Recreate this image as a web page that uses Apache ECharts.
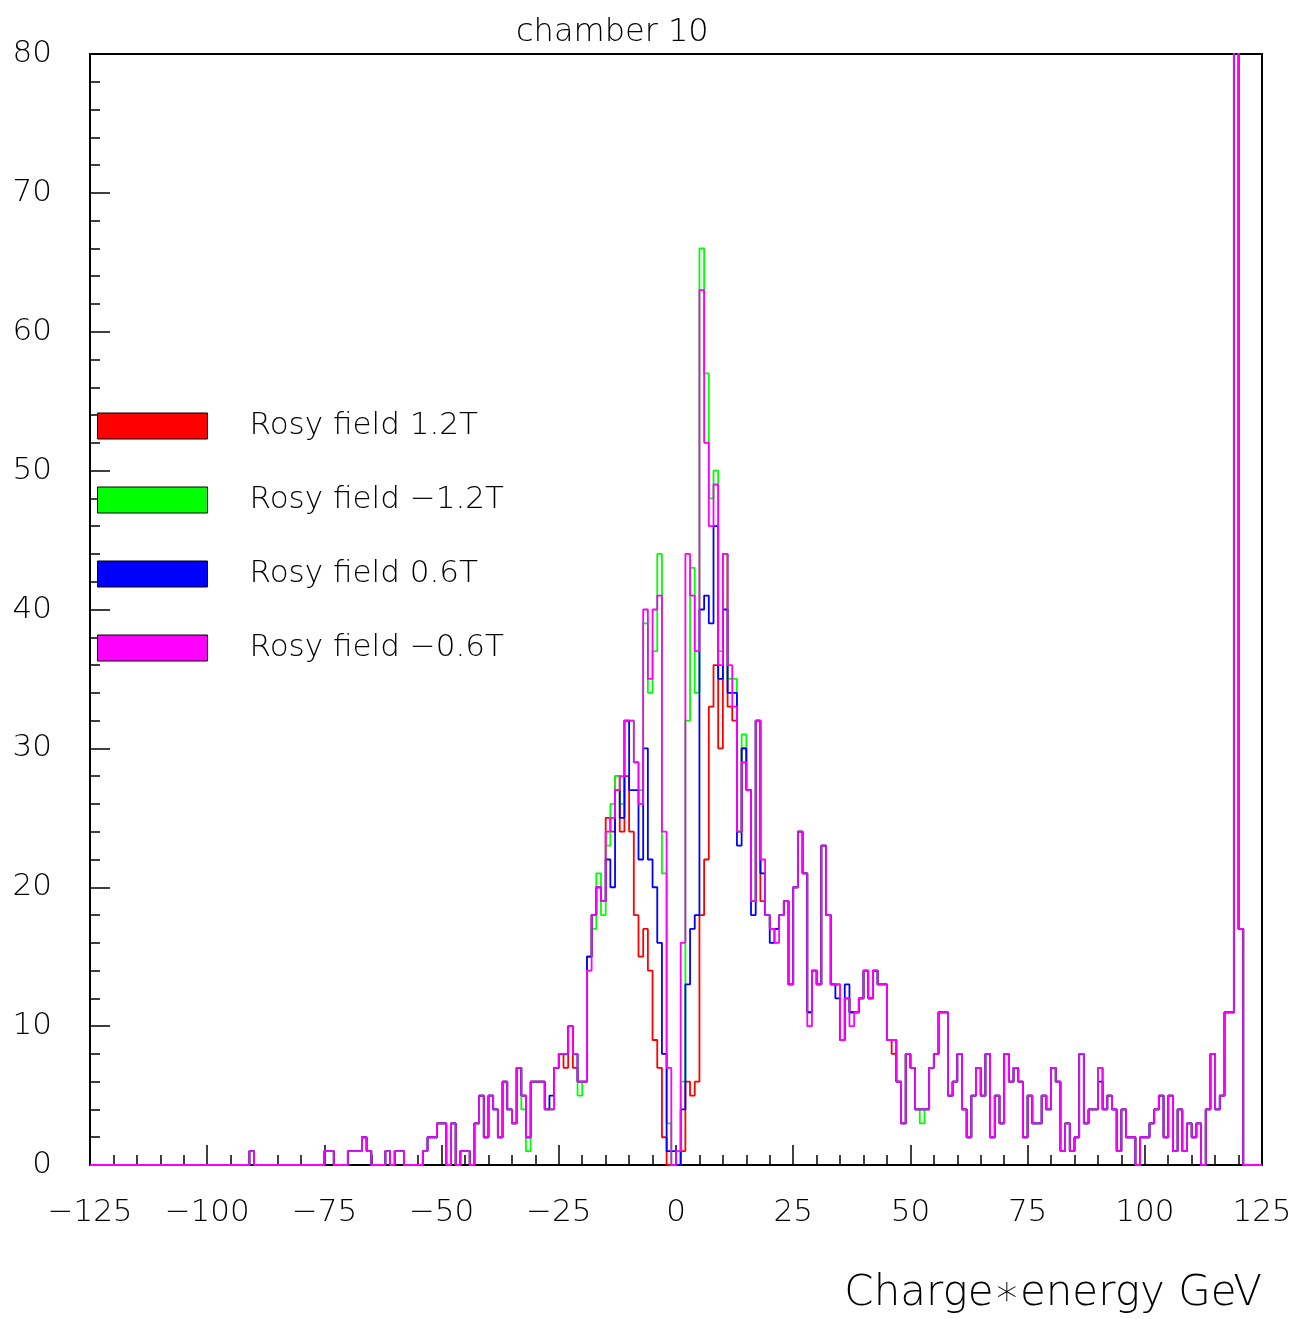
<!DOCTYPE html>
<html>
<head>
<meta charset="utf-8">
<script src="https://cdn.jsdelivr.net/npm/echarts@6/dist/echarts.min.js"></script>
<style>
  html, body { margin: 0; padding: 0; background: #fff; }
  #chart { width: 1297px; height: 1319px; }
</style>
</head>
<body>
<div id="chart"></div>
<script>
// histogram, 1 GeV bins from -125 to 125
const binLow = -125;
const nBins = 250;
const seriesNames = ['Rosy field 1.2T', 'Rosy field \u22121.2T', 'Rosy field 0.6T', 'Rosy field \u22120.6T'];
const seriesColors = ['#ff0000', '#00ff00', '#0000ff', '#ff00ff'];

// counts common to all four fields, bins -125 .. 124
const shared = [
  0,0,0,0,0,0,0,0,0,0, 0,0,0,0,0,0,0,0,0,0, 0,0,0,0,0,0,0,0,0,0, 0,0,0,0,   // -125..-92
  1,                                                                      // -91
  0,0,0,0,0,0,0,0,0,0,0,0,0,0,0,                                          // -90..-76
  1,1,0,0,0,1,1,1,2,1,0,0,0,1,0,1,1,0,0,0,0,                              // -75..-55
  1,2,2,3,3,0,3,0,1,1,0,3,5,2,5,4,2,6,4,3,7,5,2,6,6,6,4,4,7,8,8,10,8,6,6, // -54..-20
  0,0,0,0,0,0,0,0,0,0,0,0,0,0,0,0,0,0,0,0,0,0,0,0,0,0,0,0,0,0,0,0,0,0,0,0,0,0,0,0,0, // -19..21 (per field)
  18,19,13,20,24,21,11,14,13,23,18,13,13,9,12,11,11,12,14,12,14,13,13,9,9,6,3,8,7, // 22..50
  4,4,4,7,8,11,11,5,6,8,4,2,5,7,5,8,2,5,3,8,6,7,6,2,5,3,3,5,4,7,6,1,3,1,2,       // 51..85
  8,3,4,4,7,4,5,4,1,4,2,2,0,2,2,3,4,5,2,5,1,4,1,3,2,3,0,4,8,4,5,11,11,85,17,     // 86..120
  0,0,0,0                                                                 // 121..124
];

// central region, bins -19 .. 21, one array per field
const coreStart = -19;
const redCore     = [15,18,20,19,25,24,28,24,28,24,18,15,17,14, 9, 7, 2, 0, 0, 0, 1, 6, 5, 6,18,22,33,36,30,44,33,32,24,30,27,19,32,19,18,17,17];
const greenCore   = [15,17,21,18,23,26,28,26,32,32,29,27,39,34,37,44,21, 3, 0, 0, 6,32,43,34,66,57,48,50,37,44,35,35,24,31,27,19,32,21,18,17,17];
const blueCore    = [15,18,20,19,22,20,27,25,32,27,27,22,30,22,20,16, 8, 1, 1, 0, 4,13,17,18,40,41,39,46,35,40,34,34,23,30,27,18,32,21,18,16,17];
const magentaCore = [14,18,20,19,24,25,27,28,32,32,29,26,40,35,40,41,24, 7, 0, 1,16,44,41,37,63,52,46,49,36,44,36,33,24,29,27,19,32,22,18,17,16];

// single-bin differences outside the core
const redDiff     = { '-24': 7, '-22': 7, '46': 8 };
const greenDiff   = { '-33': 4, '-32': 1, '-21': 5, '52': 3 };
const blueDiff    = { '-27': 5, '90': 6, '34': 12, '36': 13, '37': 11 };
const magentaDiff = { '28': 10, '37': 10 };

function buildCounts(core, diff) {
  const c = shared.slice();
  core.forEach((v, i) => { c[coreStart + i - binLow] = v; });
  Object.keys(diff).forEach(k => { c[+k - binLow] = diff[k]; });
  return c;
}

function stepData(counts) {
  const d = counts.map((v, i) => [binLow + i, v]);
  d.push([binLow + nBins, counts[nBins - 1]]);
  return d;
}

const allCounts = [
  buildCounts(redCore, redDiff),
  buildCounts(greenCore, greenDiff),
  buildCounts(blueCore, blueDiff),
  buildCounts(magentaCore, magentaDiff)
];

const font = "'DejaVu Sans ExtraLight', 'DejaVu Sans'";
const minus = v => (v < 0 ? '\u2212' + (-v) : '' + v);

const legends = seriesNames.map((name, i) => ({
  data: [{ name: name, itemStyle: { color: seriesColors[i], borderColor: '#000', borderWidth: 1 } }],
  left: 97,
  top: 408 + i * 74,
  padding: 0,
  icon: 'rect',
  itemWidth: 110,
  itemHeight: 26,
  selectedMode: false,
  textStyle: { fontFamily: font, fontWeight: 200, fontSize: 31, color: '#000', padding: [0, 0, 0, 37], lineHeight: 36 }
}));

const option = {
  animation: false,
  backgroundColor: '#fff',
  title: {
    text: 'chamber 10',
    left: 511,
    top: 12,
    textStyle: { fontFamily: font, fontSize: 32, fontWeight: 200, color: '#000' }
  },
  legend: legends,
  grid: {
    left: 90, right: 35, top: 54, bottom: 154,
    show: true, borderColor: '#000', borderWidth: 2, backgroundColor: 'transparent'
  },
  xAxis: {
    type: 'value',
    min: -125, max: 125, interval: 25,
    name: 'Charge\u2217energy GeV',
    nameLocation: 'end',
    nameGap: 0,
    nameTextStyle: { fontFamily: font, fontWeight: 200, fontSize: 42, color: '#000', align: 'right', verticalAlign: 'top', padding: [108, 0, 0, 0] },
    axisLine: { show: true, onZero: false, lineStyle: { color: '#000', width: 2 } },
    axisTick: { show: true, inside: true, length: 20, lineStyle: { color: '#000', width: 1.5 } },
    minorTick: { show: true, splitNumber: 5, length: 10, lineStyle: { color: '#000', width: 1.5 } },
    splitLine: { show: false },
    axisLabel: { fontFamily: font, fontWeight: 200, fontSize: 31, color: '#000', margin: 32, formatter: minus }
  },
  yAxis: {
    type: 'value',
    min: 0, max: 80, interval: 10,
    axisLine: { show: true, onZero: false, lineStyle: { color: '#000', width: 2 } },
    axisTick: { show: true, inside: true, length: 20, lineStyle: { color: '#000', width: 1.5 } },
    minorTick: { show: true, splitNumber: 5, length: 10, lineStyle: { color: '#000', width: 1.5 } },
    splitLine: { show: false },
    axisLabel: { fontFamily: font, fontWeight: 200, fontSize: 31, color: '#000', margin: 38 }
  },
  series: allCounts.map((counts, i) => ({
    name: seriesNames[i],
    type: 'line',
    step: 'end',
    symbol: 'none',
    clip: true,
    color: seriesColors[i],
    lineStyle: { color: seriesColors[i], width: 1.8 },
    data: stepData(counts),
    z: 2 + i
  }))
};

const chart = echarts.init(document.getElementById('chart'));
chart.setOption(option);
</script>
</body>
</html>
